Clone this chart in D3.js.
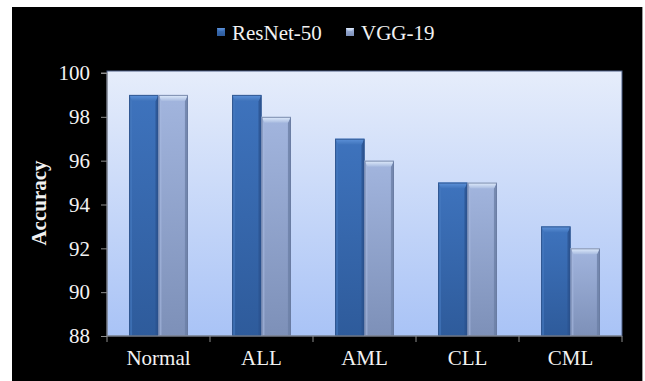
<!DOCTYPE html>
<html><head><meta charset="utf-8">
<script src="https://cdn.jsdelivr.net/npm/d3@7"></script>
<style>html,body{margin:0;padding:0;background:#fff;}svg{display:block;}</style>
</head><body>
<script>
const categories = ["Normal", "ALL", "AML", "CLL", "CML"];
const seriesNames = ["ResNet-50", "VGG-19"];
const resnet50 = [99, 99, 97, 95, 93];
const vgg19 = [99, 98, 96, 95, 92];
const yTicks = [88, 90, 92, 94, 96, 98, 100];

const W = 645, H = 381;
const svg = d3.select("body").append("svg").attr("width", W).attr("height", H);
const defs = svg.append("defs");

// outer frame
svg.append("rect").attr("x", 0).attr("y", 0).attr("width", W).attr("height", H).attr("fill", "#fff");
svg.append("rect").attr("x", 12).attr("y", 7).attr("width", 630).attr("height", H - 7).attr("fill", "#000");
svg.append("line").attr("x1", 642.5).attr("x2", 642.5).attr("y1", 7).attr("y2", H).attr("stroke", "#9a9a9a");

const plot = {l: 107, r: 622, t: 71, b: 336};
const y = d3.scaleLinear().domain([88, 100]).range([336, 73]);
const x0 = d3.scaleBand().domain(categories).range([plot.l, plot.r]).paddingInner(0).paddingOuter(0);
const x1 = d3.scaleBand().domain(seriesNames).range([0, x0.bandwidth()]).paddingInner(0).paddingOuter(0.75);

// plot background gradient
const bg = defs.append("linearGradient").attr("id", "bg").attr("x1", 0).attr("y1", 0).attr("x2", 0).attr("y2", 1);
bg.append("stop").attr("offset", "0%").attr("stop-color", "#e6edfb");
bg.append("stop").attr("offset", "100%").attr("stop-color", "#a9c3f6");
svg.append("rect").attr("x", plot.l).attr("y", plot.t).attr("width", plot.r - plot.l).attr("height", plot.b - plot.t)
  .attr("fill", "url(#bg)").attr("stroke", "#4d5f86").attr("stroke-width", 1);

// bar colours
const colors = {
  "ResNet-50": {bodyTop: "#3e73bd", bodyBot: "#2e5b9b", topA: "#5e93da", topB: "#3f73bb", left: "#4679c0", right: "#2a5290", edge: "#2b4f86"},
  "VGG-19": {bodyTop: "#a2b5de", bodyBot: "#7d90b8", topA: "#e2eefd", topB: "#a8bbe0", left: "#a7b9df", right: "#6c7fa6", edge: "#66789e"}
};
seriesNames.forEach((s, i) => {
  const c = colors[s];
  const gb = defs.append("linearGradient").attr("id", "body" + i).attr("x1", 0).attr("y1", 0).attr("x2", 0).attr("y2", 1);
  gb.append("stop").attr("offset", "0%").attr("stop-color", c.bodyTop);
  gb.append("stop").attr("offset", "100%").attr("stop-color", c.bodyBot);
  const gt = defs.append("linearGradient").attr("id", "top" + i).attr("x1", 0).attr("y1", 0).attr("x2", 0).attr("y2", 1);
  gt.append("stop").attr("offset", "0%").attr("stop-color", c.topA);
  gt.append("stop").attr("offset", "100%").attr("stop-color", c.topB);
});
const seriesData = {"ResNet-50": resnet50, "VGG-19": vgg19};

const bars = [];
categories.forEach((c, i) => {
  seriesNames.forEach((s, j) => bars.push({cat: c, series: s, si: j, value: seriesData[s][i]}));
});

const g = svg.append("g");
const pts = a => a.map(p => p.join(",")).join(" ");
bars.forEach(d => {
  const xx = x0(d.cat) + x1(d.series);
  const w = x1.bandwidth();
  const yy = y(d.value);
  const h = y(88) - yy;
  const col = colors[d.series];
  const bt = 6, bs = 3;
  const bg2 = g.append("g");
  bg2.append("rect").attr("x", xx).attr("y", yy).attr("width", w).attr("height", h).attr("fill", `url(#body${d.si})`);
  bg2.append("polygon").attr("points", pts([[xx, yy], [xx + bs, yy + bt], [xx + bs, yy + h], [xx, yy + h]])).attr("fill", col.left).attr("opacity", 0.6);
  bg2.append("polygon").attr("points", pts([[xx + w, yy], [xx + w - bs, yy + bt], [xx + w - bs, yy + h], [xx + w, yy + h]])).attr("fill", col.right).attr("opacity", 0.8);
  bg2.append("polygon").attr("points", pts([[xx, yy], [xx + w, yy], [xx + w - bs, yy + bt], [xx + bs, yy + bt]])).attr("fill", `url(#top${d.si})`);
  bg2.append("rect").attr("x", xx + 0.5).attr("y", yy + 0.5).attr("width", w - 1).attr("height", h - 1).attr("fill", "none").attr("stroke", col.edge).attr("stroke-width", 1).attr("opacity", 0.8);
});

// axes
const font = "'Liberation Serif','Times New Roman',serif";
const yAxis = d3.axisLeft(y).tickValues(yTicks).tickSize(6).tickPadding(11).tickFormat(d3.format("d"));
const ya = svg.append("g").attr("transform", `translate(${plot.l},0)`).call(yAxis);
ya.select(".domain").attr("stroke", "#8c8c8c").attr("d", `M-6,${y(100)}H0V${plot.b}`);
ya.selectAll(".tick line").attr("stroke", "#8c8c8c");
ya.selectAll("text").attr("fill", "#f2f2f2").style("font-family", font).style("font-size", "21px");

const xAxis = d3.axisBottom(x0).tickSize(0).tickPadding(14);
const xa = svg.append("g").attr("transform", `translate(0,${plot.b})`).call(xAxis);
xa.select(".domain").attr("stroke", "#8c8c8c").attr("d", `M${plot.l},0H${plot.r}`);
xa.selectAll("text").attr("fill", "#f2f2f2").style("font-family", font).style("font-size", "21px");
const bounds = categories.map(c => x0(c)).concat([x0(categories[categories.length - 1]) + x0.bandwidth()]);
xa.selectAll(".btick").data(bounds).enter().append("line").attr("class", "btick")
  .attr("x1", d => d).attr("x2", d => d).attr("y1", 0).attr("y2", 6).attr("stroke", "#8c8c8c");

// y title
svg.append("text").attr("transform", `translate(46,203) rotate(-90)`).attr("text-anchor", "middle")
  .attr("fill", "#f2f2f2").style("font-family", font).style("font-size", "21px").style("font-weight", "bold").text("Accuracy");

// legend
const legX = [217, 346];
seriesNames.forEach((s, i) => {
  const lg = svg.append("g").attr("transform", `translate(${legX[i]},28)`);
  lg.append("rect").attr("width", 8).attr("height", 8).attr("fill", `url(#body${i})`);
  lg.append("polygon").attr("points", "0,0 8,0 6,3 2,3").attr("fill", `url(#top${i})`);
  lg.append("text").attr("x", 15).attr("y", 12).attr("fill", "#f2f2f2").style("font-family", font).style("font-size", "21px").text(s);
});
</script>
</body></html>
